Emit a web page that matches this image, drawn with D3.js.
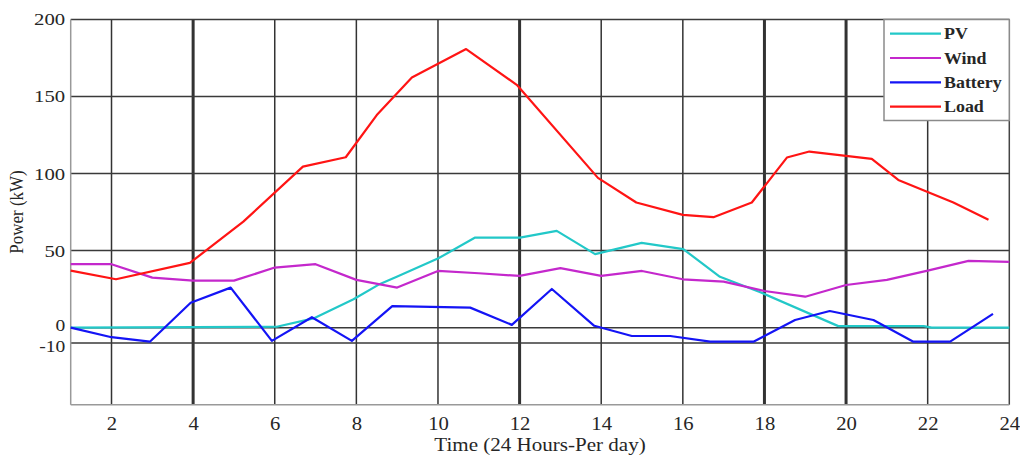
<!DOCTYPE html>
<html>
<head>
<meta charset="utf-8">
<script src="https://cdn.jsdelivr.net/npm/d3@7/dist/d3.min.js"></script>
<style>
  html, body { margin: 0; padding: 0; background: #fff; }
  svg { display: block; }
  text { font-family: "Liberation Serif", "Times New Roman", serif; fill: #262626; }
</style>
</head>
<body>
<svg id="chart" width="1020" height="457"></svg>
<script>
// values (hours, kW)
const pvHours = [1, 6.05, 6.95, 7.93, 8.58, 8.99, 10.01, 10.9, 12.01, 12.91, 13.85, 14.99, 16.01, 16.91, 17.9, 19.81, 21.9, 22.1, 24];
const pvValues = [0, 0.6, 6, 18.4, 28.4, 33, 45, 58.4, 58.4, 62.8, 47.7, 55, 51, 33, 23, 1, 1, 0, 0];

const windHours = [1, 2, 3, 4, 5, 6, 7, 8, 9, 10, 11, 12, 13, 14, 15, 16, 17, 18, 19, 20, 21, 22, 23, 24];
const windValues = [41.2, 41.2, 32.5, 30.5, 30.5, 39, 41.2, 31, 26, 36.8, 35.3, 33.6, 38.6, 33.6, 36.8, 31.4, 29.9, 23.8, 20.1, 27.7, 31, 37, 43.3, 42.7];

const batteryHours = [1, 2, 2.94, 3.94, 4.92, 5.93, 6.91, 7.89, 8.88, 10.79, 11.81, 12.79, 13.83, 14.75, 15.69, 16.67, 17.73, 18.75, 19.6, 20.67, 21.65, 22.55, 23.6];
const batteryValues = [0, -6.2, -9.1, 16.2, 26, -8.6, 6.8, -8.6, 14, 13, 1.8, 25.1, 1.2, -5.4, -5.4, -9.1, -9.1, 5, 10.8, 5, -9.1, -9.1, 8.9];

const loadHours = [1, 2.11, 3.92, 5.23, 6.69, 7.74, 8.5, 9.36, 10.69, 11.93, 13.92, 14.86, 16.0, 16.75, 17.69, 18.55, 19.1, 20.63, 21.28, 22.0, 22.63, 23.49];
const loadValues = [37, 31.4, 42, 68.8, 104.5, 110.6, 138, 162.3, 180.8, 157.6, 97.2, 81.2, 73.2, 71.7, 81.2, 110.4, 114.3, 109.5, 95.9, 88, 81.2, 70];

const seriesNames = ["PV", "Wind", "Battery", "Load"];
const seriesColors = ["#22c8c8", "#c428cc", "#1414f5", "#ff1414"];

const xTicks = [2, 4, 6, 8, 10, 12, 14, 16, 18, 20, 22, 24];
const thickX = [4, 12, 18, 20];
const yTicks = [200, 150, 100, 50, 0, -10];

const svg = d3.select("#chart");
const pLeft = 70.7, pRight = 1009.3, pTop = 19.5, pBottom = 404.7;

const x = d3.scaleLinear().domain([1, 24]).range([pLeft, pRight]);
const y = d3.scaleLinear().domain([-50, 200]).range([pBottom, pTop]);

// grid
const grid = svg.append("g");
grid.selectAll(".vg")
  .data(xTicks.filter(d => d < 24))
  .enter().append("line")
  .attr("x1", d => x(d)).attr("x2", d => x(d))
  .attr("y1", pTop).attr("y2", pBottom)
  .attr("stroke", "#333")
  .attr("stroke-width", d => thickX.includes(d) ? 3 : 1.5);

grid.selectAll(".hg")
  .data(yTicks)
  .enter().append("line")
  .attr("x1", pLeft).attr("x2", pRight)
  .attr("y1", d => y(d)).attr("y2", d => y(d))
  .attr("stroke", "#3a3a3a")
  .attr("stroke-width", 1.5);

// frame: right side dark, left & bottom light grey
svg.append("line").attr("x1", pRight).attr("x2", pRight).attr("y1", pTop).attr("y2", pBottom)
  .attr("stroke", "#444").attr("stroke-width", 1.5);
svg.append("line").attr("x1", pLeft).attr("x2", pLeft).attr("y1", pTop).attr("y2", pBottom)
  .attr("stroke", "#999").attr("stroke-width", 1.5);
svg.append("line").attr("x1", pLeft).attr("x2", pRight).attr("y1", pBottom).attr("y2", pBottom)
  .attr("stroke", "#999").attr("stroke-width", 1.5);

// axes (labels only)
const xAxis = svg.append("g")
  .attr("transform", `translate(0,${pBottom})`)
  .call(d3.axisBottom(x).tickValues(xTicks).tickSize(0).tickPadding(0));
xAxis.select(".domain").remove();
xAxis.selectAll("text")
  .attr("y", 25).attr("dy", 0)
  .attr("font-size", 18)
  .attr("transform", "scale(1.15,1)")
  .style("font-family", "Liberation Serif, serif").attr("fill", "#262626");

const yAxis = svg.append("g")
  .attr("transform", `translate(${pLeft},0)`)
  .call(d3.axisLeft(y).tickValues(yTicks).tickSize(0).tickPadding(0).tickFormat(d => String(d)));
yAxis.select(".domain").remove();
// 0 and -10 sit close together, nudge them apart a little
yAxis.selectAll("text")
  .attr("x", -4.5)
  .attr("dy", d => d === -10 ? "0.5em" : d === 0 ? "0.2em" : "0.32em")
  .attr("font-size", d => d === 0 || d === -10 ? 16 : 17)
  .attr("transform", "scale(1.22,1)")
  .style("font-family", "Liberation Serif, serif").attr("fill", "#262626");

svg.append("text")
  .attr("transform", `translate(540,451) scale(1.17,1)`)
  .attr("text-anchor", "middle").attr("font-size", 18)
  .text("Time (24 Hours-Per day)");

svg.append("text")
  .attr("transform", `translate(23,212) rotate(-90) scale(1,1.15)`)
  .attr("text-anchor", "middle").attr("font-size", 17)
  .text("Power (kW)");

// lines
const line = d3.line().x(d => x(d[0])).y(d => y(d[1]));
const series = [
  d3.zip(pvHours, pvValues),
  d3.zip(windHours, windValues),
  d3.zip(batteryHours, batteryValues),
  d3.zip(loadHours, loadValues)
];

svg.append("g").selectAll("path")
  .data(series)
  .enter().append("path")
  .attr("d", line)
  .attr("fill", "none")
  .attr("stroke", (d, i) => seriesColors[i])
  .attr("stroke-width", 2.2)
  .attr("stroke-linejoin", "round");

// legend
const lg = svg.append("g");
lg.append("rect")
  .attr("x", 884).attr("y", pTop).attr("width", pRight - 884).attr("height", 101)
  .attr("fill", "#fff").attr("stroke", "#8a8a8a").attr("stroke-width", 1.5);

const items = lg.selectAll(".item")
  .data(seriesNames)
  .enter().append("g")
  .attr("transform", (d, i) => `translate(0,${33.7 + i * 24.3})`);

items.append("line")
  .attr("x1", 890).attr("x2", 941)
  .attr("stroke", (d, i) => seriesColors[i]).attr("stroke-width", 2.2);

items.append("text")
  .attr("transform", "translate(944,5.5) scale(1.12,1)")
  .attr("font-size", 16).attr("font-weight", "bold").attr("fill", "#333")
  .text(d => d);
</script>
</body>
</html>
